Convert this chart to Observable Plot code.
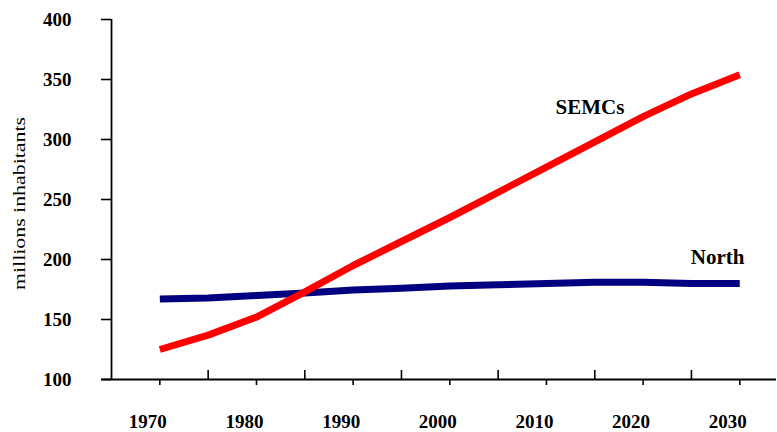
<!DOCTYPE html>
<html>
<head>
<meta charset="utf-8">
<script src="https://cdn.jsdelivr.net/npm/d3@7"></script>
<script src="https://cdn.jsdelivr.net/npm/@observablehq/plot@0.6"></script>
<style>
  html, body { margin: 0; padding: 0; background: #fff; }
</style>
</head>
<body>
<div id="chart"></div>
<script>
// ---- data ----
const years = [1970, 1975, 1980, 1985, 1990, 1995, 2000, 2005, 2010, 2015, 2020, 2025, 2030];
const semcs = [125, 137, 152, 173, 195, 215, 235, 256, 277, 298, 319, 338, 354];
const north = [167, 168, 170, 172, 174.5, 176, 178, 179, 180, 181, 181, 180, 180];

const xTickLabels = [1970, 1980, 1990, 2000, 2010, 2020, 2030];
const xMidTicks = [1975, 1985, 1995, 2005, 2015, 2025];
const yTicks = [100, 150, 200, 250, 300, 350, 400];

const seriesNames = ["SEMCs", "North"];
const seriesLabelX = [2014.5, 2027.7];
const seriesLabelY = [327, 202];
const yLabel = "millions inhabitants";

const xDomain = [1965, 2033.8];
const yDomain = [100, 400];

// ---- tables built from the arrays ----
const semcsRows = years.map((y, i) => ({year: y, value: semcs[i]}));
const northRows = years.map((y, i) => ({year: y, value: north[i]}));
const labelRows = seriesNames.map((n, i) => ({name: n, x: seriesLabelX[i], y: seriesLabelY[i]}));

const font = "'Liberation Serif', 'Times New Roman', Times, serif";

const chart = Plot.plot({
  width: 777,
  height: 432,
  marginLeft: 111,
  marginRight: 1,
  marginTop: 19,
  marginBottom: 53,
  x: {domain: xDomain, axis: null},
  y: {domain: yDomain},
  style: {fontFamily: font, background: "white", color: "black"},
  marks: [
    // y axis with ticks and labels
    Plot.axisY({ticks: yTicks, tickSize: 10, tickPadding: 30, fontSize: 19, fontWeight: "bold",
      label: null, strokeWidth: 1.6, tickFormat: d => String(d)}),
    // axis lines
    Plot.ruleX([xDomain[0]], {y1: yDomain[0], y2: yDomain[1], stroke: "black", strokeWidth: 1.8}),
    Plot.ruleY([yDomain[0]], {x1: 1964, x2: xDomain[1], stroke: "black", strokeWidth: 1.8}),
    // x ticks below (at labels) and above (between)
    Plot.ruleX(xTickLabels, {x: d => d, y1: yDomain[0], y2: yDomain[0], insetBottom: -6, stroke: "black", strokeWidth: 1.6}),
    Plot.ruleX(xMidTicks, {x: d => d, y1: yDomain[0], y2: yDomain[0], insetTop: -9, stroke: "black", strokeWidth: 1.6}),
    // x labels
    Plot.text(xTickLabels, {x: d => d, frameAnchor: "bottom", dy: 42, dx: -12, text: d => String(d),
      fontSize: 19, fontWeight: "bold", lineAnchor: "middle", fill: "black"}),
    // y label
    Plot.text([yLabel], {frameAnchor: "left", dx: -92, dy: 4, rotate: -90, fontSize: 16,
      lineAnchor: "middle", textAnchor: "middle", fill: "black"}),
    // series
    Plot.line(northRows, {x: "year", y: "value", stroke: "#000080", strokeWidth: 7, strokeLinecap: "butt", strokeLinejoin: "round"}),
    Plot.line(semcsRows, {x: "year", y: "value", stroke: "#FF0000", strokeWidth: 7, strokeLinecap: "butt", strokeLinejoin: "round"}),
    // series labels
    Plot.text(labelRows, {x: "x", y: "y", text: "name", fontSize: 21, fontWeight: "bold", fill: "black",
      textAnchor: "middle", lineAnchor: "middle"})
  ]
});

document.getElementById("chart").appendChild(chart);

d3.select(chart).selectAll("text")
  .filter(function() { return this.textContent === yLabel; })
  .attr("textLength", 173)
  .attr("lengthAdjust", "spacingAndGlyphs");
</script>
</body>
</html>
